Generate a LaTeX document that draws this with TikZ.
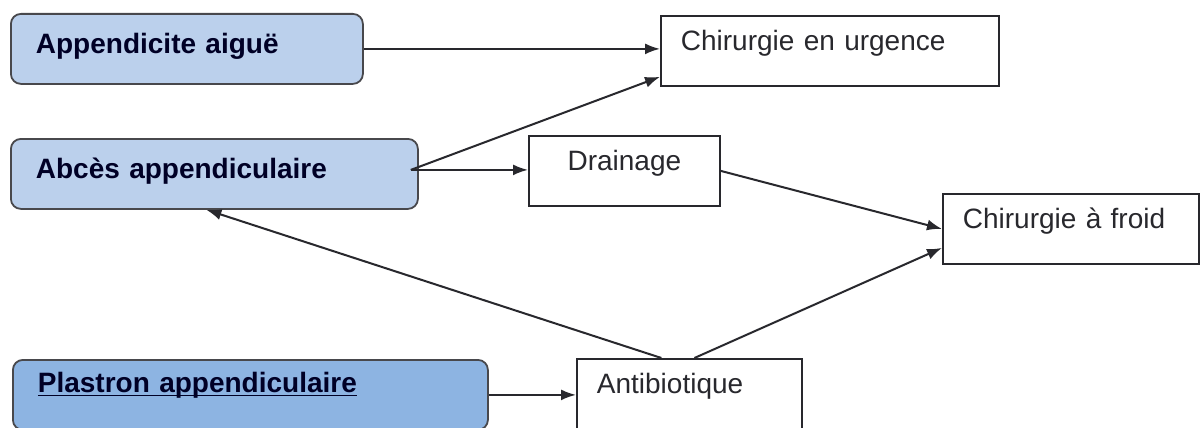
\documentclass[tikz,border=0pt]{standalone}
\usepackage{fontspec}
\setmainfont{Liberation Sans}
\usetikzlibrary{positioning,arrows.meta}

\definecolor{paleblue}{RGB}{187,208,236}
\definecolor{midblue}{RGB}{141,180,226}
\definecolor{inkgray}{RGB}{40,40,45}

% trait sous le texte, passe dans les jambages
\newcommand{\souligne}[1]{\setbox0\hbox{#1}\rlap{\rule[-3pt]{\wd0}{1.3pt}}\box0}

\tikzset{
  situation/.style={draw=inkgray!85, line width=1.8pt, rounded corners=10pt, fill=paleblue,
    anchor=north west, inner xsep=25pt, inner ysep=0pt, text height=40pt, text depth=30pt,
    align=left, font=\fontsize{28}{30}\selectfont\bfseries, text=black!85!blue},
  conduite/.style={draw=inkgray, line width=1.8pt, fill=white, anchor=north west,
    inner xsep=20pt, inner ysep=0pt, text height=35pt, text depth=35pt,
    align=left, font=\fontsize{28}{30}\selectfont, text=inkgray},
  fleche/.style={draw=inkgray, line width=2pt, -{Latex[length=15pt,width=11pt]}},
}

\begin{document}
\begin{tikzpicture}[x=1pt,y=-1pt]
  \useasboundingbox (0,0) rectangle (1202,428);
  \clip (0,0) rectangle (1202,428);
  \fill[white] (0,0) rectangle (1202,428);

  % situations cliniques
  \node[situation, text width=302pt] (appaigue) at (10,13) {Appendicite aiguë};
  \node[situation, text width=357pt] (abces) at (10,138) {Abcès appendiculaire};
  \node[situation, fill=midblue, text width=425pt, text height=33pt, text depth=37pt] (plastron) at (12,359) {\souligne{Plastron appendiculaire}};

  % conduites a tenir
  \node[conduite, text width=298pt] (urgence) at (660,15) {Chirurgie en urgence};
  \node[conduite, text width=151pt, align=center] (drainage) at (528,135) {Drainage};
  \node[conduite, text width=216pt] (froid) at (942,193) {Chirurgie à froid};
  \node[conduite, text width=185pt] (antibio) at (576,358) {Antibiotique};

  \coordinate (abcesout) at ([xshift=-8pt,yshift=4pt]abces.east);

  \draw[fleche] (appaigue.east) -- (appaigue.east -| urgence.west);
  \draw[fleche] (abcesout) -- ([yshift=10pt]urgence.south west);
  \draw[fleche] (abcesout) -- (abcesout -| drainage.west);
  \draw[fleche] (drainage.east) -- (froid.west);
  \draw[fleche] ([xshift=5pt]antibio.north) -- ([yshift=-19pt]froid.west);
  \draw[fleche] ([xshift=-28pt]antibio.north) -- ([xshift=-8pt]abces.south);
  \draw[fleche] (plastron.east) -- (plastron.east -| antibio.west);
\end{tikzpicture}
\end{document}
